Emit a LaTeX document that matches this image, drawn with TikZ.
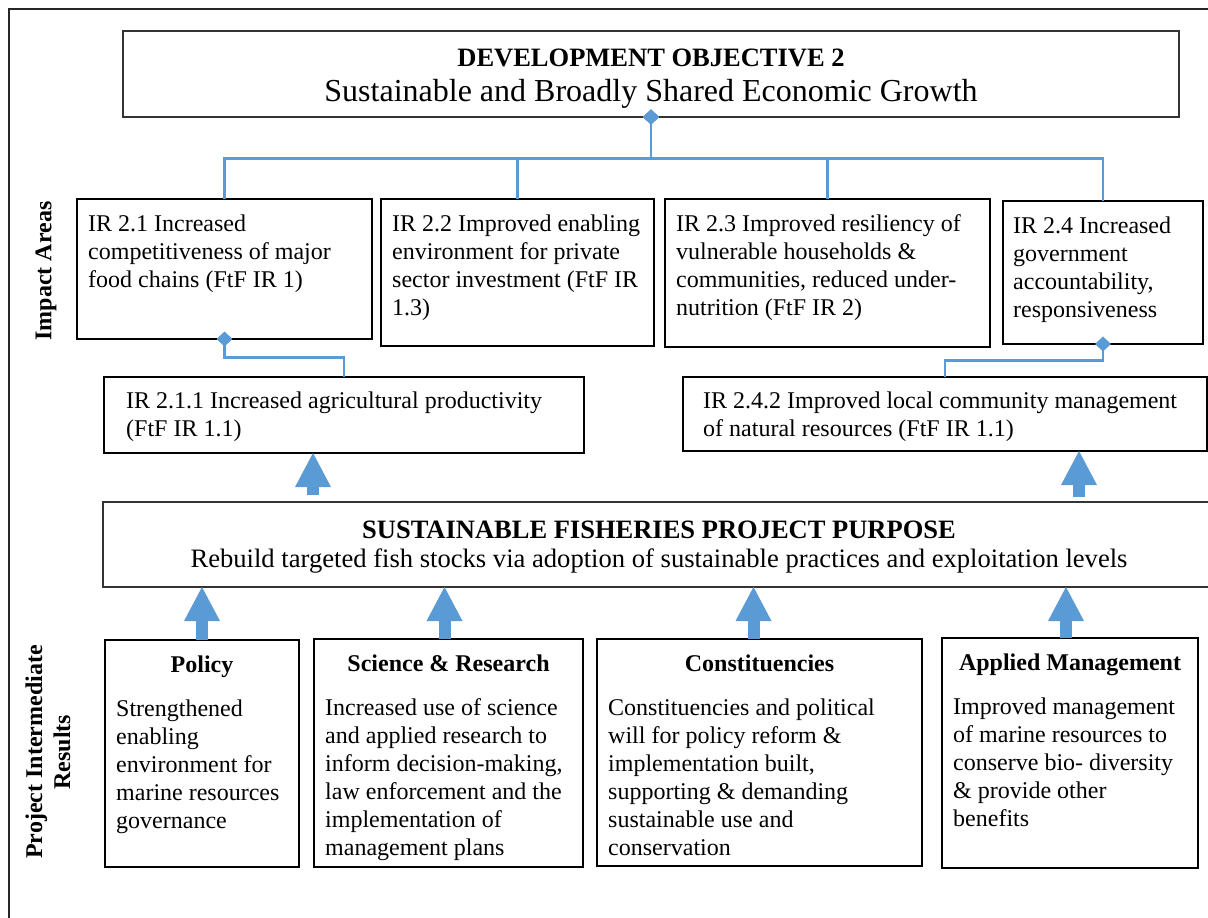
\documentclass[tikz,border=0pt]{standalone}
\usepackage{fontspec}
\setmainfont{Liberation Serif}
\usetikzlibrary{arrows.meta}
\definecolor{linkblue}{RGB}{91,155,213}

\begin{document}
\begin{tikzpicture}[x=1pt,y=-1pt,
    box/.style={draw=black,line width=1.6pt,anchor=north west,inner sep=0pt,outer sep=0pt},
    size/.style 2 args={minimum width=#1,minimum height=#2},
    txt/.style={font=\fontsize{24pt}{28pt}\selectfont,align=left,inner sep=0pt,anchor=north west},
    head/.style={font=\fontsize{24pt}{28pt}\selectfont\bfseries,inner sep=0pt,anchor=base},
    link/.style={draw=linkblue,line width=2.5pt,{Diamond[width=16pt,length=15pt,line width=0pt]}-},
    bigarrow/.style={draw=linkblue,line width=12pt,-{Triangle[width=36pt,length=34pt,line width=0pt]}}]
    \useasboundingbox (0,0) rectangle (1208,918);

    % outer frame
    \draw[line width=1.2pt,black!85] (9,918) -- (9,9) -- (1208,9);

    % development objective
    \node[box,line width=1.1pt,draw=black!80,size={1056pt}{86pt}] (dev) at (123,31) {};
    \node[head,font=\fontsize{26.5pt}{30pt}\selectfont\bfseries] (devt) at ([yshift=-35pt]dev.north) {DEVELOPMENT OBJECTIVE 2};
    \node[head,font=\fontsize{32pt}{34pt}\selectfont] (devs) at ([yshift=-70pt]dev.north) {Sustainable and Broadly Shared Economic Growth};

    % impact areas
    \node[head,anchor=center,rotate=90] (impact) at (46,271) {Impact Areas};
    \node[box,size={295pt}{140pt}] (ir21) at (77,199) {};
    \node[txt] (ir21t) at ([xshift=11pt,yshift=-15.6pt]ir21.north west) {IR 2.1 Increased\\competitiveness of major\\food chains (FtF IR 1)};
    \node[box,size={273pt}{147pt}] (ir22) at (381,199) {};
    \node[txt] (ir22t) at ([xshift=11pt,yshift=-15.6pt]ir22.north west) {IR 2.2 Improved enabling\\environment for private\\sector investment (FtF IR\\1.3)};
    \node[box,size={325pt}{148pt}] (ir23) at (665,199) {};
    \node[txt] (ir23t) at ([xshift=11pt,yshift=-15.6pt]ir23.north west) {IR 2.3 Improved resiliency of\\vulnerable households \&\\communities, reduced under-\\nutrition (FtF IR 2)};
    \node[box,size={200pt}{143pt}] (ir24) at (1003,201) {};
    \node[txt] (ir24t) at ([xshift=10pt,yshift=-15.6pt]ir24.north west) {IR 2.4 Increased\\government\\accountability,\\responsiveness};

    \node[box,size={480pt}{76pt}] (ir211) at (104,377) {};
    \node[txt] (ir211t) at ([xshift=22pt,yshift=-14.6pt]ir211.north west) {IR 2.1.1 Increased agricultural productivity\\(FtF IR 1.1)};
    \node[box,size={524pt}{74pt}] (ir242) at (683,377) {};
    \node[txt] (ir242t) at ([xshift=20pt,yshift=-14.6pt]ir242.north west) {IR 2.4.2 Improved local community management\\of natural resources (FtF IR 1.1)};

    % tree connectors
    \draw[link] ([yshift=7.5pt]dev.south) -- ++(0,49) -| (ir21.north);
    \draw[link] ([yshift=7.5pt]dev.south) -- ++(0,49) -| (ir22.north);
    \draw[link] ([yshift=7.5pt]dev.south) -- ++(0,49) -| (ir23.north);
    \draw[link] ([yshift=7.5pt]dev.south) -- ++(0,49) -| (ir24.north);
    \draw[link] ([yshift=7.5pt]ir21.south) -- ++(0,26) -| (ir211.north);
    \draw[link] ([yshift=7.5pt]ir24.south) -- ++(0,24) -| (ir242.north);

    % project purpose
    \node[box,line width=1.1pt,draw=black!80,size={1112pt}{85pt}] (purpose) at (103,502) {};
    \node[head,font=\fontsize{26.5pt}{30pt}\selectfont\bfseries] (purt) at ([yshift=-36pt]purpose.north) {SUSTAINABLE FISHERIES PROJECT PURPOSE};
    \node[head,font=\fontsize{26.6pt}{30pt}\selectfont] (purs) at ([yshift=-65pt]purpose.north) {Rebuild targeted fish stocks via adoption of sustainable practices and exploitation levels};
    \coordinate (up1) at (313,495);
    \coordinate (up2) at (1079,497);
    \draw[bigarrow] (up1) -- (up1 |- ir211.south);
    \draw[bigarrow] (up2) -- (up2 |- ir242.south);

    % project intermediate results
    \node[head,anchor=center,rotate=90,align=center] (pir) at (48,752) {Project Intermediate\\Results};
    \node[box,size={194pt}{227pt}] (policy) at (105,640) {};
    \node[head] (policyh) at ([yshift=-32pt]policy.north) {Policy};
    \node[txt] (policyt) at ([xshift=11pt,yshift=-59.6pt]policy.north west) {Strengthened\\enabling\\environment for\\marine resources\\governance};
    \node[box,size={269pt}{228pt}] (science) at (314,639) {};
    \node[head] (scienceh) at ([yshift=-32pt]science.north) {Science \& Research};
    \node[txt] (sciencet) at ([xshift=11pt,yshift=-59.6pt]science.north west) {Increased use of science\\and applied research to\\inform decision-making,\\law enforcement and the\\implementation of\\management plans};
    \node[box,size={325pt}{227pt}] (constit) at (597,639) {};
    \node[head] (constith) at ([yshift=-32pt]constit.north) {Constituencies};
    \node[txt] (constitt) at ([xshift=11pt,yshift=-59.6pt]constit.north west) {Constituencies and political\\will for policy reform \&\\implementation built,\\supporting \& demanding\\sustainable use and\\conservation};
    \node[box,size={256pt}{230pt}] (applied) at (942,638) {};
    \node[head] (appliedh) at ([yshift=-32pt]applied.north) {Applied Management};
    \node[txt] (appliedt) at ([xshift=11pt,yshift=-59.6pt]applied.north west) {Improved management\\of marine resources to\\conserve bio- diversity\\\& provide other\\benefits};

    % arrows into the purpose
    \draw[bigarrow] (policy.north) -- (policy.north |- purpose.south);
    \draw[bigarrow] ([xshift=-4pt]science.north) -- ([xshift=-4pt]science.north |- purpose.south);
    \draw[bigarrow] ([xshift=-6pt]constit.north) -- ([xshift=-6pt]constit.north |- purpose.south);
    \draw[bigarrow] ([xshift=-4pt]applied.north) -- ([xshift=-4pt]applied.north |- purpose.south);
\end{tikzpicture}
\end{document}
